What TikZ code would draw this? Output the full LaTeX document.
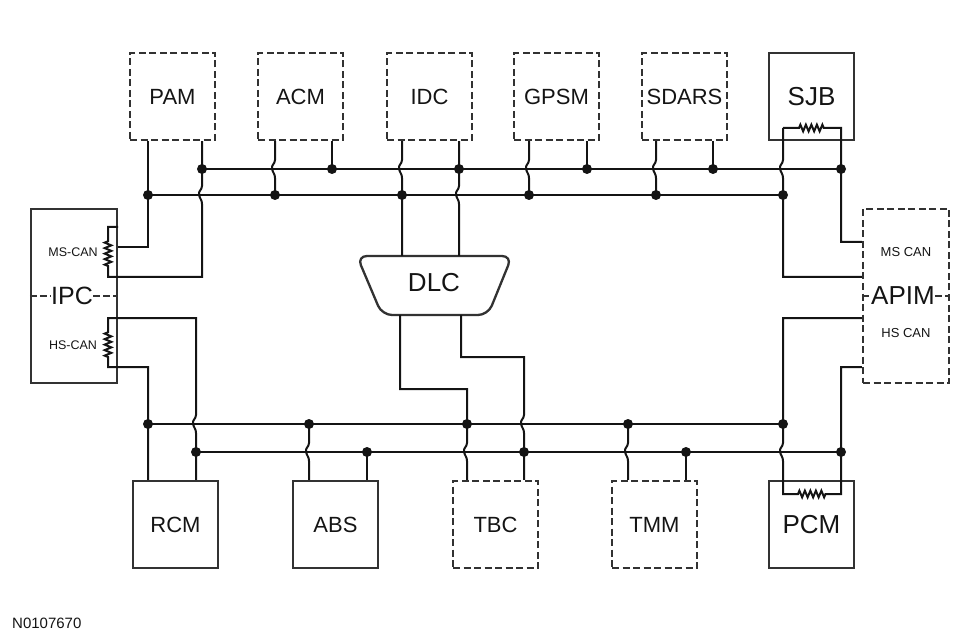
\documentclass[tikz,border=0pt]{standalone}
\usepackage{fontspec}
\setmainfont{Liberation Sans}
\usetikzlibrary{decorations.pathmorphing}
\definecolor{boxc}{RGB}{50,50,50}
\definecolor{wirec}{RGB}{20,20,20}
\definecolor{txtc}{RGB}{20,20,20}
\begin{document}
\begin{tikzpicture}[x=1pt,y=-1pt,
  box/.style={draw=boxc, line width=2.3pt, minimum width=85pt, minimum height=87pt, inner sep=0pt, text=txtc, font=\fontsize{22}{24}\selectfont},
  dbox/.style={box, dash pattern=on 7pt off 3.5pt},
  big/.style={font=\fontsize{26}{28}\selectfont},
  tallbox/.style={minimum width=86pt, minimum height=174pt},
  small/.style={font=\fontsize{12.5}{14}\selectfont, text=txtc, inner sep=0pt},
  wire/.style={draw=wirec, line width=2pt, line join=miter},
  sep/.style={draw=boxc, line width=1.8pt, dash pattern=on 7pt off 3pt},
  jdot/.style={circle, fill=wirec, inner sep=0pt, minimum size=10pt},
  res/.style={decorate, decoration={zigzag, segment length=5.5pt, amplitude=3.3pt}},
  hop/.style 2 args={insert path={-- (#1,#2-9) .. controls (#1,#2-5) and (#1-4,#2-4) .. (#1-3,#2) .. controls (#1-2,#2+4) and (#1,#2+5) .. (#1,#2+9)}}
]
\useasboundingbox (0,0) rectangle (975,639);

% top modules
\node[dbox] (pam)   at (172.5,96.5) {PAM};
\node[dbox] (acm)   at (300.5,96.5) {ACM};
\node[dbox] (idc)   at (429.5,96.5) {IDC};
\node[dbox] (gpsm)  at (556.5,96.5) {GPSM};
\node[dbox] (sdars) at (684.5,96.5) {SDARS};
\node[box,big] (sjb) at (811.5,96.5) {SJB};

% side modules
\node[box,tallbox] (ipc)  at (74,296) {};
\node[dbox,tallbox] (apim) at (906,296) {};

% bottom modules
\node[box]  (rcm) at (175.5,524.5) {RCM};
\node[box]  (abs) at (335.5,524.5) {ABS};
\node[dbox] (tbc) at (495.5,524.5) {TBC};
\node[dbox] (tmm) at (654.5,524.5) {TMM};
\node[box,big] (pcm) at (811.5,524.5) {PCM};

% DLC
\draw[draw=boxc, line width=2.3pt, rounded corners=10pt] (357,256) -- (512,256) -- (488,315) -- (382,315) -- cycle;
\node[big, text=txtc, inner sep=0pt] (dlc) at (434,283) {DLC};

% IPC texts
\node[small] (ipcms) at (73,252) {MS-CAN};
\node[small] (ipchs) at (73,345) {HS-CAN};
\node[font=\fontsize{25}{27}\selectfont, text=txtc, inner sep=0pt] (ipct) at (72,296) {IPC};
\draw[sep] (ipc.west |- 0,296) -- (ipct.west);
\draw[sep] (ipct.east) -- (ipc.east |- 0,296);

% APIM texts
\node[small, font=\fontsize{13}{15}\selectfont] (apimms) at (906,252) {MS CAN};
\node[small, font=\fontsize{13}{15}\selectfont] (apimhs) at (906,333) {HS CAN};
\node[font=\fontsize{26}{28}\selectfont, text=txtc, inner sep=0pt] (apimt) at (903,296) {APIM};
\draw[sep] (apim.west |- 0,296) -- (apimt.west);
\draw[sep] (apimt.east) -- (apim.east |- 0,296);

% buses
\draw[wire] (202,169) -- (841,169);
\draw[wire] (148,195) -- (783,195);
\draw[wire] (148,424) -- (783,424);
\draw[wire] (196,452) -- (841,452);

% top wires
\draw[wire] (148,0 |- pam.south) -- (148,247) -- (ipc.east |- 0,247);
\draw[wire] (202,0 |- pam.south) -- (202,169) [hop={202}{195}] -- (202,277) -- (108,277) -- (108,266) decorate[res]{-- (108,240)} -- (108,227) -- (ipc.east |- 0,227);
\draw[wire] (275,0 |- acm.south) [hop={275}{169}] -- (275,195);
\draw[wire] (332,0 |- acm.south) -- (332,169);
\draw[wire] (402,0 |- idc.south) [hop={402}{169}] -- (402,256);
\draw[wire] (459,0 |- idc.south) -- (459,169) [hop={459}{195}] -- (459,256);
\draw[wire] (529,0 |- gpsm.south) [hop={529}{169}] -- (529,195);
\draw[wire] (587,0 |- gpsm.south) -- (587,169);
\draw[wire] (656,0 |- sdars.south) [hop={656}{169}] -- (656,195);
\draw[wire] (713,0 |- sdars.south) -- (713,169);
\draw[wire] (783,128) [hop={783}{169}] -- (783,277) -- (apim.west |- 0,277);
\draw[wire] (783,128) -- (799,128) decorate[res]{-- (825,128)} -- (841,128) -- (841,242) -- (apim.west |- 0,242);

% DLC to bottom bus
\draw[wire] (400,315) -- (400,389) -- (467,389) -- (467,424) [hop={467}{452}] -- (467,0 |- tbc.north);
\draw[wire] (461,315) -- (461,357) -- (524,357) [hop={524}{424}] -- (524,0 |- tbc.north);

% bottom wires
\draw[wire] (148,0 |- rcm.north) -- (148,367) -- (108,367) -- (108,357) decorate[res]{-- (108,330)} -- (108,318) -- (196,318) [hop={196}{424}] -- (196,0 |- rcm.north);
\draw[wire] (309,424) [hop={309}{452}] -- (309,0 |- abs.north);
\draw[wire] (367,452) -- (367,0 |- abs.north);
\draw[wire] (628,424) [hop={628}{452}] -- (628,0 |- tmm.north);
\draw[wire] (686,452) -- (686,0 |- tmm.north);
\draw[wire] (apim.west |- 0,318) -- (783,318) -- (783,424) [hop={783}{452}] -- (783,494) -- (798,494) decorate[res]{-- (826,494)} -- (841,494) -- (841,367) -- (apim.west |- 0,367);

% junction dots
\foreach \x in {202,332,459,587,713,841} \node[jdot] at (\x,169) {};
\foreach \x in {148,275,402,529,656,783} \node[jdot] at (\x,195) {};
\foreach \x in {148,309,467,628,783} \node[jdot] at (\x,424) {};
\foreach \x in {196,367,524,686,841} \node[jdot] at (\x,452) {};

\node[anchor=west, font=\fontsize{15}{17}\selectfont, text=txtc, inner sep=0pt] (ref) at (12,623) {N0107670};
\end{tikzpicture}
\end{document}
